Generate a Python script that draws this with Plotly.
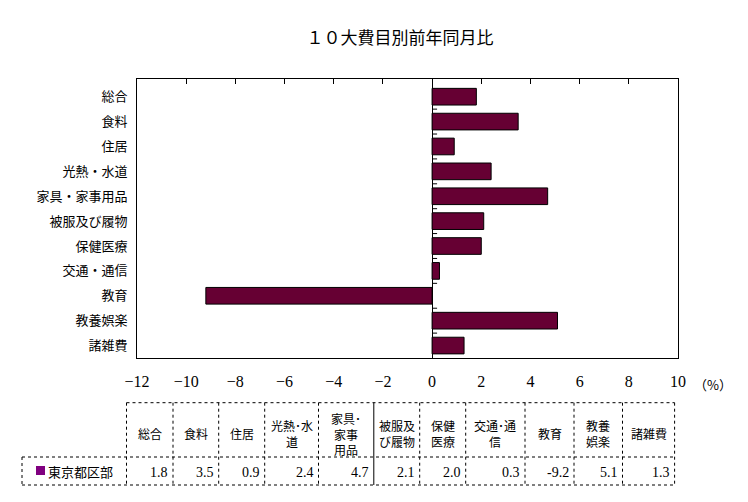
import plotly.graph_objects as go

# %% データ
categories = ["総合", "食料", "住居", "光熱・水道", "家具・家事用品", "被服及び履物",
              "保健医療", "交通・通信", "教育", "教養娯楽", "諸雑費"]
values = [1.8, 3.5, 0.9, 2.4, 4.7, 2.1, 2.0, 0.3, -9.2, 5.1, 1.3]
table_headers = ["総合", "食料", "住居", "光熱･水<br>道", "家具･<br>家事<br>用品",
                 "被服及<br>び履物", "保健<br>医療", "交通･通<br>信", "教育",
                 "教養<br>娯楽", "諸雑費"]
series_name = "東京都区部"
x_ticks = list(range(-12, 11, 2))

# ページ座標 (body の余白 8px を考慮)
OFF = 8
W, H = 748 - OFF, 502 - OFF
L, R, T, B = 137, 678, 79, 358
JP = "Noto Sans CJK JP"
NUM = "Liberation Serif"


def px(x):
    return (x - L) / (R - L)


def py(y):
    return (B - y) / (B - T)


fig = go.Figure()
fig.add_trace(go.Bar(
    x=values, y=categories, orientation="h",
    marker=dict(color="#660033", line=dict(color="black", width=1)),
    showlegend=False, hoverinfo="x+y",
))
# 上側の目盛り用
fig.add_trace(go.Scatter(x=[x_ticks[0], x_ticks[-1]], y=[categories[0], categories[0]],
                         xaxis="x2", mode="markers", marker=dict(opacity=0),
                         showlegend=False, hoverinfo="skip"))

shapes = []
# ゼロ線上の区切り目盛り
for i in range(len(categories) - 1):
    shapes.append(dict(type="line", xref="x", yref="y", xsizemode="pixel", xanchor=0,
                       x0=0, x1=5, y0=i + 0.5, y1=i + 0.5,
                       line=dict(color="black", width=1)))

# %% 表
cols = [126.5, 173, 218.7, 264.7, 318.5, 373.8, 419.7, 465.7, 525, 574, 622.5, 674.6]
t_top, t_mid, t_bot, t_left = 402.7, 457, 485, 22
dot = dict(color="black", width=1, dash="dot")


def hline(x0, x1, y, line=dot):
    shapes.append(dict(type="line", xref="paper", yref="paper",
                       x0=px(x0), x1=px(x1), y0=py(y), y1=py(y), line=line))


def vline(x, y0, y1, line=dot):
    shapes.append(dict(type="line", xref="paper", yref="paper",
                       x0=px(x), x1=px(x), y0=py(y0), y1=py(y1), line=line))


hline(cols[0], cols[-1], t_top)
hline(t_left, cols[-1], t_mid)
hline(t_left, cols[-1], t_bot)
vline(t_left, t_mid, t_bot)
for i, c in enumerate(cols):
    if i == 5:
        vline(c, t_top, t_bot, line=dict(color="black", width=1))
    else:
        vline(c, t_top, t_bot)

annotations = []
for i, h in enumerate(table_headers):
    cx = (cols[i] + cols[i + 1]) / 2
    annotations.append(dict(text=h, x=px(cx), y=py((t_top + t_mid) / 2 + 4),
                            xref="paper", yref="paper", showarrow=False,
                            xanchor="center", yanchor="middle", borderpad=0,
                            font=dict(family=JP, size=12, color="black"),
                            align="center"))
    annotations.append(dict(text=f"{values[i]:.1f}", x=px(cols[i + 1] - 3),
                            y=py((t_mid + t_bot) / 2 + 1), xref="paper", yref="paper",
                            xanchor="right", yanchor="middle", showarrow=False,
                            font=dict(family=NUM, size=14, color="black")))

# 凡例キー
shapes.append(dict(type="rect", xref="paper", yref="paper",
                   x0=px(36), x1=px(45), y0=py(466), y1=py(475),
                   fillcolor="#800080", line=dict(width=0)))
annotations.append(dict(text=series_name, x=px(46), y=py(471), xref="paper", yref="paper",
                        xanchor="left", yanchor="middle", showarrow=False,
                        font=dict(family=JP, size=13, color="black")))

annotations.append(dict(text="（%）", x=px(713), y=py(384), xref="paper", yref="paper",
                        xanchor="center", yanchor="middle", showarrow=False,
                        font=dict(family=JP, size=13, color="black")))

fig.update_layout(
    width=W, height=H,
    margin=dict(l=L - OFF, r=W + OFF - R, t=T - OFF, b=H + OFF - B, pad=0),
    paper_bgcolor="white", plot_bgcolor="white",
    title=dict(text="１０大費目別前年同月比", x=px(400), xref="paper", xanchor="center",
               y=1 - (38 - OFF) / H, yanchor="middle",
               font=dict(family=JP, size=17, color="black")),
    bargap=0.33,
    xaxis=dict(range=[-12, 10], tickvals=x_ticks, ticks="", showgrid=False,
               zeroline=True, zerolinecolor="black", zerolinewidth=1,
               showline=True, linecolor="black", linewidth=1, mirror=True,
               ticklabelstandoff=9,
               tickfont=dict(family=NUM, size=16, color="black")),
    xaxis2=dict(range=[-12, 10], tickvals=x_ticks, overlaying="x", side="top",
                ticks="inside", ticklen=5, tickcolor="black", showticklabels=False,
                showgrid=False, zeroline=False),
    yaxis=dict(autorange="reversed", showgrid=False, ticks="", showline=True,
               linecolor="black", linewidth=1, mirror=True, ticklabelstandoff=6,
               tickfont=dict(family=JP, size=13, color="black")),
    shapes=shapes, annotations=annotations,
)

fig.write_html("out.html")
